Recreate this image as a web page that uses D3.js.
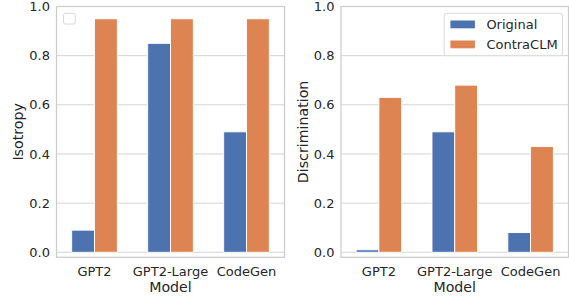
<!DOCTYPE html>
<html>
<head>
<meta charset="utf-8">
<script src="https://cdn.jsdelivr.net/npm/d3@7"></script>
<style>
  body { margin: 0; background: #fff; }
  svg text { font-family: "DejaVu Sans", sans-serif; fill: #262626; }
</style>
</head>
<body>
<svg id="chart" width="569" height="298"></svg>
<script>
const models = ["GPT2", "GPT2-Large", "CodeGen"];
const seriesNames = ["Original", "ContraCLM"];
const isotropyOriginal = [0.09, 0.85, 0.49];
const isotropyContra = [0.95, 0.95, 0.95];
const discrimOriginal = [0.01, 0.49, 0.08];
const discrimContra = [0.63, 0.68, 0.43];
const yTicks = [0.0, 0.2, 0.4, 0.6, 0.8, 1.0];
const colors = ["#4c72b0", "#dd8452"];

const svg = d3.select("#chart");
const fontSize = 13;
const labelSize = 14.2;

function panel(x0, x1, series, yLabel, legendMode) {
  const top = 6.5, bottom = 257.3;
  const x = d3.scaleBand().domain(models).range([x0, x1]).padding(0);
  const y = d3.scaleLinear().domain([-0.0205, 1.0]).range([bottom, top]);
  const g = svg.append("g");

  // grid
  g.selectAll("line.grid").data(yTicks).enter().append("line")
    .attr("x1", x0).attr("x2", x1)
    .attr("y1", d => y(d)).attr("y2", d => y(d))
    .attr("stroke", "#d4d4d4").attr("stroke-width", 1);

  // bars
  const bw = x.bandwidth() * 0.3;
  series.forEach((vals, si) => {
    g.selectAll("rect.s" + si).data(models).enter().append("rect")
      .attr("x", (d) => x(d) + x.bandwidth() / 2 - bw + si * bw)
      .attr("width", bw)
      .attr("y", (d, i) => y(vals[i]))
      .attr("height", (d, i) => y(0) - y(vals[i]))
      .attr("fill", colors[si])
      .attr("stroke", "#fff").attr("stroke-width", 0.9);
  });

  // frame
  g.append("rect").attr("x", x0).attr("y", top)
    .attr("width", x1 - x0).attr("height", bottom - top)
    .attr("fill", "none").attr("stroke", "#cccccc").attr("stroke-width", 1.25);

  // y axis
  const yAxis = d3.axisLeft(y).tickValues(yTicks).tickFormat(d3.format(".1f")).tickSize(0).tickPadding(6.5);
  const ya = g.append("g").attr("transform", `translate(${x0},0)`).call(yAxis);
  ya.select(".domain").remove();
  ya.selectAll("text").style("font-size", fontSize + "px").attr("fill", "#262626").style("font-family", "DejaVu Sans");

  // x axis
  const xAxis = d3.axisBottom(x).tickSize(0).tickPadding(9);
  const xa = g.append("g").attr("transform", `translate(0,${bottom})`).call(xAxis);
  xa.select(".domain").remove();
  xa.selectAll("text").style("font-size", fontSize + "px").attr("fill", "#262626").style("font-family", "DejaVu Sans");

  g.append("text").attr("x", (x0 + x1) / 2).attr("y", 291.5)
    .attr("text-anchor", "middle").style("font-size", labelSize + "px").text("Model");

  g.append("text")
    .attr("transform", `translate(${x0 - 33.5},${(top + bottom) / 2}) rotate(-90)`)
    .attr("text-anchor", "middle").style("font-size", labelSize + "px").text(yLabel);

  // legend
  if (legendMode === "empty") {
    g.append("rect").attr("x", x0 + 7).attr("y", 13.3).attr("width", 11.7).attr("height", 10.7)
      .attr("rx", 2).attr("fill", "#fff").attr("stroke", "#d9d9d9").attr("stroke-width", 1);
  } else {
    const lx = x1 - 124.3, ly = 13.3;
    g.append("rect").attr("x", lx).attr("y", ly).attr("width", 118.4).attr("height", 42.4)
      .attr("rx", 2.5).attr("fill", "#fff").attr("fill-opacity", 0.85)
      .attr("stroke", "#d9d9d9").attr("stroke-width", 1);
    seriesNames.forEach((name, i) => {
      g.append("rect").attr("x", lx + 6.2).attr("y", ly + 7.2 + i * 20).attr("width", 24.5).attr("height", 7.8)
        .attr("fill", colors[i]);
      g.append("text").attr("x", lx + 42.2).attr("y", ly + 15.8 + i * 20)
        .style("font-size", fontSize + "px").text(name);
    });
  }
}

panel(56.5, 284.5, [isotropyOriginal, isotropyContra], "Isotropy", "empty");
panel(341, 568.5, [discrimOriginal, discrimContra], "Discrimination", "full");
</script>
</body>
</html>
